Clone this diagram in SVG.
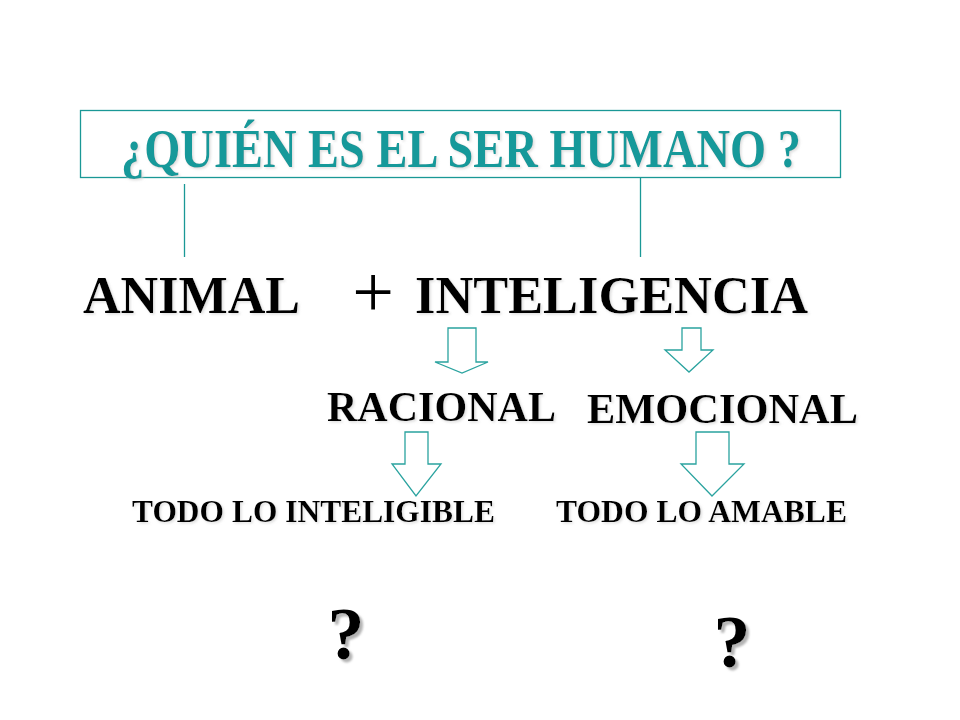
<svg xmlns="http://www.w3.org/2000/svg" width="960" height="720" viewBox="0 0 960 720">
  <defs>
    <filter id="sh" x="-10%" y="-20%" width="130%" height="150%">
      <feDropShadow dx="1.5" dy="1.5" stdDeviation="0.8" flood-color="#d0d0d0" flood-opacity="0.7"/>
    </filter>
    <filter id="sh2" x="-20%" y="-20%" width="160%" height="160%">
      <feDropShadow dx="3" dy="3" stdDeviation="1" flood-color="#a0a0a0" flood-opacity="0.8"/>
    </filter>
  </defs>
  <style>
    .t { font-family: "Liberation Serif", "Times New Roman", serif; font-weight: bold; fill: #000; }
    .title { font-family: "Liberation Serif", "Times New Roman", serif; font-weight: bold; fill: #12999a; }
    .ln { stroke: #1a9896; stroke-width: 1.3; fill: none; }
    .arr { stroke: #2aa39f; stroke-width: 1.3; fill: #fff; stroke-linejoin: miter; }
  </style>
  <rect width="960" height="720" fill="#fff"/>

  <g id="title">
    <rect x="80.5" y="110.5" width="760" height="67" class="ln"/>
    <text class="title" x="121" y="167" font-size="54" textLength="680" lengthAdjust="spacingAndGlyphs" filter="url(#sh)">¿QUIÉN ES EL SER HUMANO ?</text>
  </g>

  <g id="connectors">
    <line x1="184.5" y1="184" x2="184.5" y2="257" class="ln"/>
    <line x1="640.5" y1="177" x2="640.5" y2="257" class="ln"/>
    <polygon class="arr" points="448,328 476,328 476,362 488,362 462,373 435,362 448,362"/>
    <polygon class="arr" points="682,328 701,328 701,350 713,350 689,372 665,350 682,350"/>
    <polygon class="arr" points="405,432 428,432 428,464 441,464 416,496 392,464 405,464"/>
    <polygon class="arr" points="696,432 729,432 729,464 744,464 712,496 681,464 696,464"/>
  </g>

  <g id="animal">
    <text class="t" x="83" y="313" font-size="52" textLength="217" lengthAdjust="spacingAndGlyphs" filter="url(#sh)">ANIMAL</text>
  </g>
  <g id="plus">
    <text x="373" y="317" font-size="74" text-anchor="middle" font-family="Liberation Serif, serif" fill="#000">+</text>
  </g>
  <g id="inteligencia">
    <text class="t" x="415" y="313" font-size="52" textLength="393" lengthAdjust="spacingAndGlyphs" filter="url(#sh)">INTELIGENCIA</text>
  </g>

  <g id="racional">
    <text class="t" x="327" y="421" font-size="42" textLength="229" lengthAdjust="spacingAndGlyphs" filter="url(#sh)">RACIONAL</text>
  </g>
  <g id="emocional">
    <text class="t" x="587" y="423" font-size="42" textLength="271" lengthAdjust="spacingAndGlyphs" filter="url(#sh)">EMOCIONAL</text>
  </g>

  <g id="inteligible">
    <text class="t" x="132" y="522" font-size="31" textLength="363" lengthAdjust="spacingAndGlyphs" filter="url(#sh)">TODO LO INTELIGIBLE</text>
  </g>
  <g id="amable">
    <text class="t" x="556" y="522" font-size="31" textLength="291" lengthAdjust="spacingAndGlyphs" filter="url(#sh)">TODO LO AMABLE</text>
  </g>

  <g id="q1">
    <text class="t" x="346" y="659" font-size="74" text-anchor="middle" filter="url(#sh2)">?</text>
  </g>
  <g id="q2">
    <text class="t" x="732" y="667" font-size="74" text-anchor="middle" filter="url(#sh2)">?</text>
  </g>
</svg>
